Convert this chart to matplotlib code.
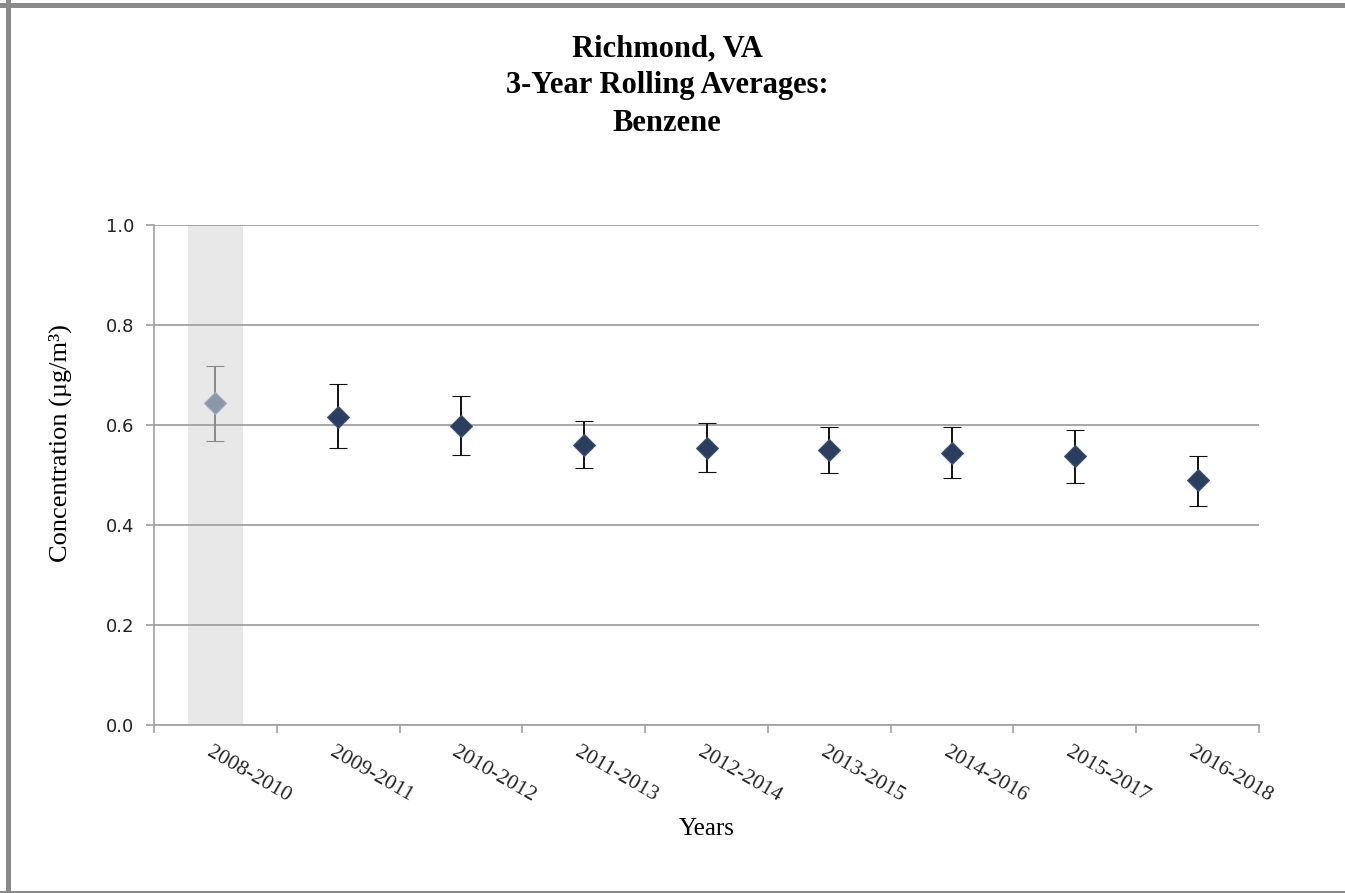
import matplotlib.pyplot as plt
from matplotlib.lines import Line2D

# Data
periods = ["2008-2010", "2009-2011", "2010-2012", "2011-2013", "2012-2014",
           "2013-2015", "2014-2016", "2015-2017", "2016-2018"]
means = [0.644, 0.617, 0.599, 0.560, 0.555, 0.550, 0.545, 0.538, 0.491]
upper = [0.718, 0.682, 0.658, 0.609, 0.604, 0.597, 0.597, 0.591, 0.539]
lower = [0.568, 0.554, 0.540, 0.515, 0.506, 0.504, 0.494, 0.485, 0.439]
yticks = [0.0, 0.2, 0.4, 0.6, 0.8, 1.0]

serif = ["Liberation Serif", "DejaVu Serif"]

fig = plt.figure(figsize=(13.45, 8.93), dpi=100)
ax = fig.add_axes([154 / 1345, 1 - 725 / 893, (1259 - 154) / 1345, 500 / 893])

x = list(range(len(periods)))

# shaded first period
ax.axvspan(-0.225, 0.225, color="#e8e8e8", zorder=0, lw=0)

for i in x:
    faded = i == 0
    ecol = "#8a8a8a" if faded else "#111111"
    fcol = "#8c97aa" if faded else "#2c3e5e"
    edge = "#a0aabb" if faded else "#3d5480"
    ax.errorbar(i, means[i],
                yerr=[[means[i] - lower[i]], [upper[i] - means[i]]],
                fmt="D", ms=11, mfc=fcol, mec=edge, mew=0.8,
                ecolor=ecol, elinewidth=1.4, capsize=6.5, capthick=1.4, zorder=3)

ax.set_xlim(-0.5, len(periods) - 0.5)
ax.set_ylim(0, 1.0)
ax.set_yticks(yticks)
ax.set_yticklabels([f"{v:.1f}" for v in yticks], fontsize=13, family="DejaVu Sans", color="#222222")
ax.yaxis.grid(True, color="#a0a0a0", lw=1.3)
ax.set_axisbelow(True)

# category boundary ticks on x axis
ax.set_xticks([i - 0.5 for i in x] + [len(periods) - 0.5])
ax.set_xticklabels([])
ax.tick_params(axis="x", length=6, color="#a0a0a0", width=1.2)
ax.tick_params(axis="y", length=6, color="#a0a0a0", width=1.2, pad=8)
for i, lab in enumerate(periods):
    ax.text(i - 0.02, -0.035, lab, rotation=-30, rotation_mode="anchor",
            ha="left", va="top", fontsize=15.5, family=serif, color="#222222",
            transform=ax.get_xaxis_transform())

for s in ["top", "right"]:
    ax.spines[s].set_visible(False)
for s in ["left", "bottom"]:
    ax.spines[s].set_color("#a0a0a0")
    ax.spines[s].set_linewidth(1.2)

fig.text(0.496, 0.962, "Richmond, VA\n3-Year Rolling Averages:\nBenzene",
         ha="center", va="top", fontsize=22, fontweight="bold", family=serif,
         linespacing=1.38)
fig.text(60 / 1345, 1 - 443 / 893, "Concentration (µg/m³)", rotation=90,
         ha="center", va="center", fontsize=19, family=serif)
fig.text(707 / 1345, 1 - 829 / 893, "Years", ha="center", va="center",
         fontsize=18, family=serif)

# outer frame
fig.add_artist(Line2D([0, 1], [1 - 4.5 / 893] * 2, transform=fig.transFigure, color="#8a8a8a", lw=3.6))
fig.add_artist(Line2D([7.5 / 1345] * 2, [0, 1 - 2 / 893], transform=fig.transFigure, color="#8a8a8a", lw=3.6))
fig.add_artist(Line2D([0, 1], [1.2 / 893] * 2, transform=fig.transFigure, color="#8a8a8a", lw=1.5))

fig.savefig("out.png", dpi=100)
